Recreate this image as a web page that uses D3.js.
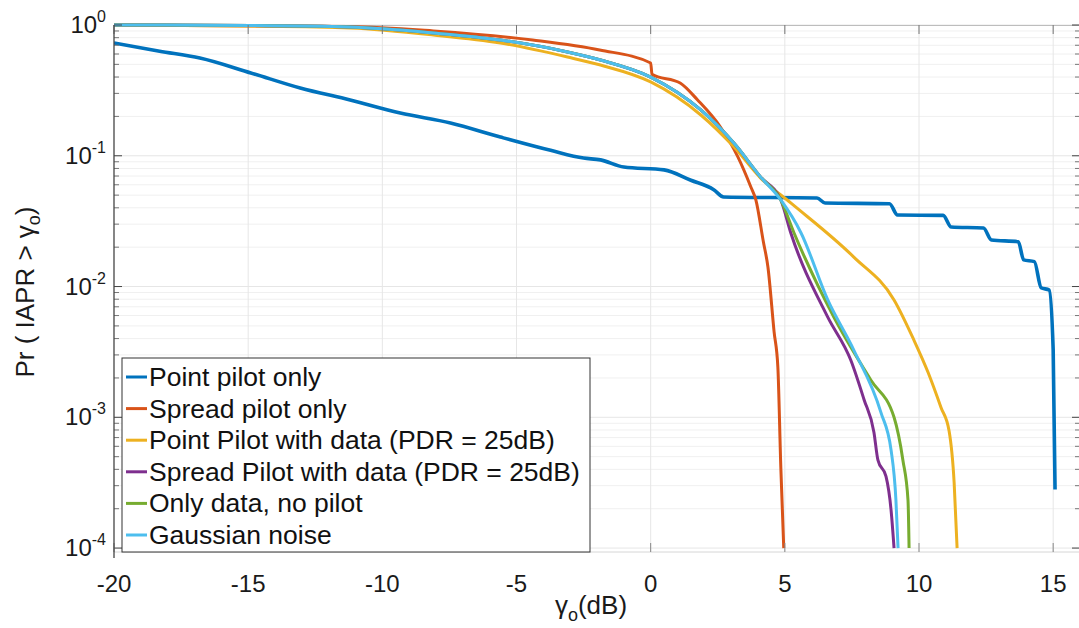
<!DOCTYPE html>
<html>
<head>
<meta charset="utf-8">
<script src="https://cdn.jsdelivr.net/npm/d3@7"></script>
<style>
  body { margin: 0; background: #fff; }
  svg { display: block; font-family: "Liberation Sans", Arial, Helvetica, sans-serif; }
</style>
</head>
<body>
<svg id="chart" width="1079" height="628"></svg>
<script>
// --- data (gamma_o in dB, Pr(IAPR > gamma_o)) ---
const pointPilotOnly = [
  [-20, 0.728], [-18.3, 0.63], [-16.8, 0.559], [-14.9, 0.43], [-13.06, 0.33], [-11.2, 0.267],
  [-9.33, 0.212], [-7.46, 0.178], [-5.6, 0.139], [-3.73, 0.11], [-2.5, 0.096], [-1.87, 0.093],
  [-1, 0.082], [0.5, 0.078], [1.5, 0.065], [2.35, 0.055], [2.72, 0.0484],
  [6.2, 0.0475], [6.5, 0.0435], [8.9, 0.043], [9.2, 0.0352], [10.9, 0.035], [11.2, 0.0285],
  [12.4, 0.028], [12.7, 0.0227], [13.7, 0.022], [13.9, 0.016], [14.3, 0.0155], [14.55, 0.0098],
  [14.85, 0.0094], [15.0, 0.0033], [15.07, 0.00028]
];
const spreadPilotOnly = [
  [-20, 1.0], [-11.2, 0.974], [-8.1, 0.9], [-4.4, 0.768], [-1.9, 0.644], [0, 0.512],
  [0.05, 0.42], [1.1, 0.36], [1.75, 0.267], [2.6, 0.166], [3.25, 0.098], [3.73, 0.058],
  [3.92, 0.046], [4.2, 0.022], [4.37, 0.0141], [4.6, 0.0045], [4.74, 0.00242], [4.85, 0.000416], [4.96, 0.0001]
];
const pointPilotData = [
  [-20, 1.0], [-14.9, 0.983], [-11.2, 0.948], [-8.1, 0.839], [-5.6, 0.728], [-3.1, 0.569],
  [-1.87, 0.494], [0, 0.367], [1.87, 0.205], [3.1, 0.117], [4.1, 0.0675], [5.22, 0.0436],
  [7.57, 0.0168], [9.07, 0.0079], [9.81, 0.0039], [10.34, 0.0022], [10.82, 0.00119],
  [11.12, 0.00079], [11.31, 0.000315], [11.42, 0.0001]
];
const spreadPilotData = [
  [-20, 1.0], [-14.9, 0.991], [-11.2, 0.965], [-8.1, 0.869], [-5.6, 0.768], [-3.1, 0.622],
  [-1.87, 0.54], [0, 0.40], [1.87, 0.224], [3.1, 0.125], [4.1, 0.0687], [4.85, 0.0459],
  [5.22, 0.0258], [6.6, 0.00583], [7.46, 0.00273], [7.95, 0.00137], [8.32, 0.00077],
  [8.47, 0.00047], [8.77, 0.000353], [8.96, 0.000194], [9.07, 0.0001]
];
const onlyData = [
  [-20, 1.0], [-14.9, 0.991], [-11.2, 0.965], [-8.1, 0.869], [-5.6, 0.768], [-3.1, 0.622],
  [-1.87, 0.54], [0, 0.40], [1.87, 0.224], [3.1, 0.125], [4.1, 0.0687], [4.85, 0.0459],
  [5.34, 0.0258], [6.83, 0.00583], [8.21, 0.00192], [9.07, 0.00100], [9.4, 0.00047],
  [9.59, 0.000233], [9.63, 0.0001]
];
const gaussianNoise = [
  [-20, 1.0], [-14.9, 0.991], [-11.2, 0.965], [-8.1, 0.869], [-5.6, 0.768], [-3.1, 0.622],
  [-1.87, 0.54], [0, 0.40], [1.87, 0.224], [3.1, 0.125], [4.1, 0.0687], [4.85, 0.0459],
  [5.6, 0.0258], [6.6, 0.0079], [7.57, 0.00327], [8.58, 0.00109], [8.96, 0.00056],
  [9.14, 0.000233], [9.22, 0.0001]
];

const seriesNames = [
  'Point pilot only',
  'Spread pilot only',
  'Point Pilot with data (PDR = 25dB)',
  'Spread Pilot with data (PDR = 25dB)',
  'Only data, no pilot',
  'Gaussian noise'
];
const seriesData = [pointPilotOnly, spreadPilotOnly, pointPilotData, spreadPilotData, onlyData, gaussianNoise];
const seriesColors = ['#0072BD', '#D95319', '#EDB120', '#7E2F8E', '#77AC30', '#4DBEEE'];

const xTicks = [-20, -15, -10, -5, 0, 5, 10, 15];
const yExponents = [0, -1, -2, -3, -4];

// --- layout ---
const svg = d3.select('#chart');
const plotLeft = 114, plotRight = 1080, plotTop = 25, plotBottom = 552;

const x = d3.scaleLinear().domain([-20, 16]).range([plotLeft, plotRight]);
const y = d3.scaleLog().domain([Math.pow(10, -4.03), 1]).range([plotBottom, plotTop]);

const minorVals = [];
yExponents.slice(1).forEach(e => {
  for (let k = 2; k <= 9; k++) minorVals.push(k * Math.pow(10, e));
});

// grid
const grid = svg.append('g');
grid.selectAll('.hmin').data(minorVals).join('line')
  .attr('x1', plotLeft).attr('x2', plotRight)
  .attr('y1', d => y(d)).attr('y2', d => y(d))
  .attr('stroke', '#f0f0f0').attr('stroke-width', 1);
grid.selectAll('.hmaj').data(yExponents.map(e => Math.pow(10, e))).join('line')
  .attr('x1', plotLeft).attr('x2', plotRight)
  .attr('y1', d => y(d)).attr('y2', d => y(d))
  .attr('stroke', '#e6e6e6').attr('stroke-width', 1);
grid.selectAll('.vmaj').data(xTicks.slice(1)).join('line')
  .attr('x1', d => x(d)).attr('x2', d => x(d))
  .attr('y1', plotTop).attr('y2', plotBottom)
  .attr('stroke', '#e6e6e6').attr('stroke-width', 1);

// box
svg.append('line').attr('x1', plotLeft).attr('x2', plotRight).attr('y1', plotTop + 0.5).attr('y2', plotTop + 0.5)
  .attr('stroke', '#bdbdbd').attr('stroke-width', 1.2);
svg.append('line').attr('x1', plotLeft).attr('x2', plotRight).attr('y1', plotBottom).attr('y2', plotBottom)
  .attr('stroke', '#d6d6d6').attr('stroke-width', 1);

// curves
svg.append('clipPath').attr('id', 'clip').append('rect')
  .attr('x', plotLeft).attr('y', plotTop - 2).attr('width', plotRight - plotLeft).attr('height', plotBottom - plotTop + 4);

const line = d3.line().x(d => x(d[0])).y(d => y(d[1])).curve(d3.curveMonotoneX);
svg.append('g').attr('clip-path', 'url(#clip)')
  .selectAll('path').data(seriesData).join('path')
  .attr('d', line)
  .attr('fill', 'none')
  .attr('stroke', (d, i) => seriesColors[i])
  .attr('stroke-width', (d, i) => i === 0 ? 3.6 : 3)
  .attr('stroke-linejoin', 'round');

// ticks (inward, MATLAB style)
const tickG = svg.append('g').attr('stroke', '#444').attr('stroke-width', 1);
yExponents.forEach(e => {
  const yy = y(Math.pow(10, e));
  tickG.append('line').attr('x1', plotLeft).attr('x2', plotLeft + 8).attr('y1', yy).attr('y2', yy);
  tickG.append('line').attr('x1', plotRight - 8).attr('x2', plotRight).attr('y1', yy).attr('y2', yy);
});
minorVals.forEach(v => {
  const yy = y(v);
  tickG.append('line').attr('x1', plotLeft).attr('x2', plotLeft + 5).attr('y1', yy).attr('y2', yy).attr('stroke', '#777');
  tickG.append('line').attr('x1', plotRight - 5).attr('x2', plotRight).attr('y1', yy).attr('y2', yy).attr('stroke', '#777');
});
xTicks.forEach(t => {
  const xx = x(t);
  tickG.append('line').attr('x1', xx).attr('x2', xx).attr('y1', plotBottom).attr('y2', plotBottom - 9).attr('stroke', '#888');
  tickG.append('line').attr('x1', xx).attr('x2', xx).attr('y1', plotTop).attr('y2', plotTop + 9).attr('stroke', '#777');
});

// left axis line
svg.append('line').attr('x1', plotLeft).attr('x2', plotLeft).attr('y1', plotTop).attr('y2', plotBottom + 6)
  .attr('stroke', '#444').attr('stroke-width', 1.3);

// x tick labels
svg.append('g').selectAll('text').data(xTicks).join('text')
  .attr('x', d => x(d)).attr('y', 592)
  .attr('text-anchor', 'middle')
  .attr('font-size', 24).attr('fill', '#1a1a1a')
  .text(d => d);

// y tick labels 10^e
const yLab = svg.append('g').selectAll('text').data(yExponents).join('text')
  .attr('x', 106).attr('y', d => y(Math.pow(10, d)) + 8)
  .attr('text-anchor', 'end')
  .attr('font-size', 24).attr('fill', '#1a1a1a');
yLab.append('tspan').text('10');
yLab.append('tspan').attr('dy', -11).attr('font-size', 16).text(d => d);

// axis titles
const yTitle = svg.append('text')
  .attr('transform', 'translate(34,292) rotate(-90)')
  .attr('text-anchor', 'middle')
  .attr('font-size', 26).attr('fill', '#1a1a1a');
yTitle.append('tspan').text('Pr ( IAPR > γ');
yTitle.append('tspan').attr('font-size', 18).attr('dy', 6).text('o');
yTitle.append('tspan').attr('dy', -6).text(')');

const xTitle = svg.append('text')
  .attr('x', 591).attr('y', 614)
  .attr('text-anchor', 'middle')
  .attr('font-size', 26).attr('fill', '#1a1a1a');
xTitle.append('tspan').text('γ');
xTitle.append('tspan').attr('font-size', 18).attr('dy', 7).text('o');
xTitle.append('tspan').attr('dy', -7).text('(dB)');

// legend
const legX = 122, legY = 358, legW = 468, legH = plotBottom - legY, rowH = 31.6;
const legend = svg.append('g');
legend.append('rect')
  .attr('x', legX).attr('y', legY).attr('width', legW).attr('height', legH)
  .attr('fill', '#fff').attr('stroke', '#333').attr('stroke-width', 1);
const rows = legend.selectAll('g.row').data(seriesNames).join('g')
  .attr('transform', (d, i) => `translate(${legX}, ${legY + 19 + i * rowH})`);
rows.append('line')
  .attr('x1', 4).attr('x2', 25).attr('y1', 0).attr('y2', 0)
  .attr('stroke', (d, i) => seriesColors[i]).attr('stroke-width', 3);
rows.append('text')
  .attr('x', 27).attr('y', 9)
  .attr('font-size', 26.5).attr('fill', '#111')
  .text(d => d);
</script>
</body>
</html>
